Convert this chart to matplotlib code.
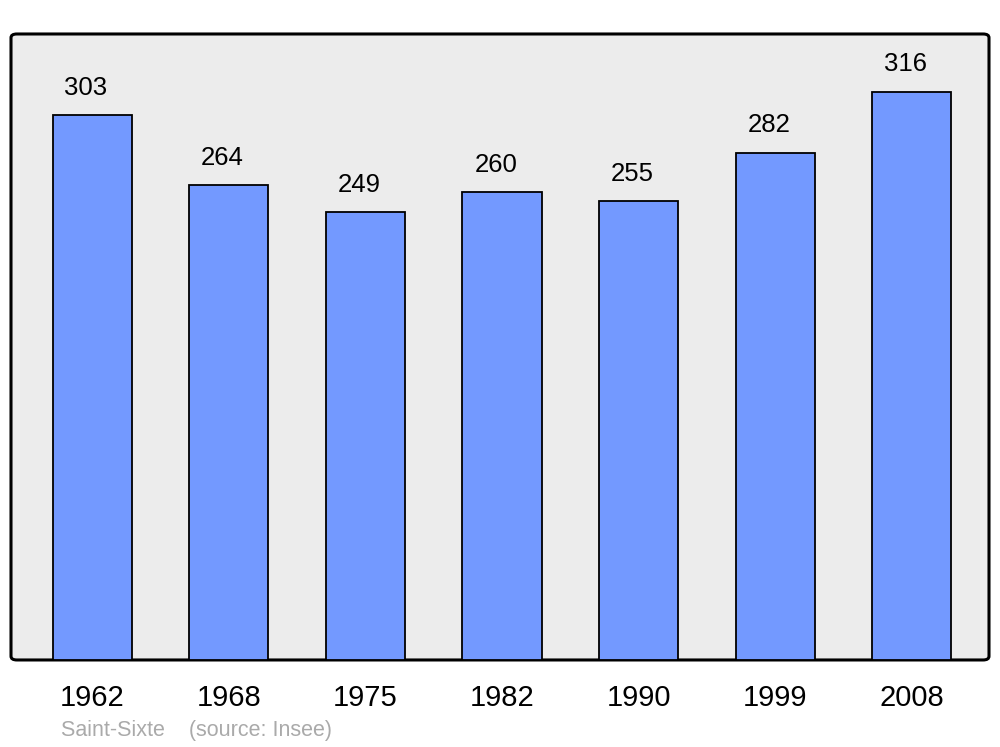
#!/usr/bin/env python3
"""Population bar chart for Saint-Sixte (source: Insee)."""
import matplotlib
matplotlib.use("Agg")
import matplotlib.pyplot as plt
from matplotlib.patches import FancyBboxPatch
import numpy as np

years = ["1962", "1968", "1975", "1982", "1990", "1999", "2008"]
population = [303, 264, 249, 260, 255, 282, 316]

plt.rcParams['font.family'] = ['Liberation Sans', 'DejaVu Sans']

fig = plt.figure(figsize=(10, 7.47), dpi=100)
ax = fig.add_axes([0.011, 0.1165, 0.978, 0.838])

x = np.arange(len(years))
ax.bar(x, population, width=0.58, color='#7399ff', edgecolor='black',
       linewidth=1.3, zorder=3)

for xi, v in zip(x, population):
    ax.annotate(f"{v}", (xi, v), xytext=(-4.5, 11), textcoords='offset points',
                ha='center', va='bottom', fontsize=18.5)

ax.set_xlim(-0.595, 6.565)
ax.set_ylim(0, 348)
ax.set_xticks(x)
ax.set_xticklabels(years, fontsize=21)
ax.tick_params(axis='x', length=0, pad=17)
ax.set_yticks([])
for s in ax.spines.values():
    s.set_visible(False)
ax.patch.set_visible(False)

# rounded frame with grey fill
frame = FancyBboxPatch((0, 0), 1, 1, boxstyle="round,pad=0,rounding_size=0.006",
                       transform=ax.transAxes, facecolor='#ececec',
                       edgecolor='black', linewidth=2.2, zorder=0, clip_on=False)
ax.add_patch(frame)

fig.text(0.061, 0.0147, "Saint-Sixte    (source: Insee)", fontsize=15.5,
         color='#aaaaaa', ha='left', va='baseline')

fig.savefig("out.png", dpi=100)
